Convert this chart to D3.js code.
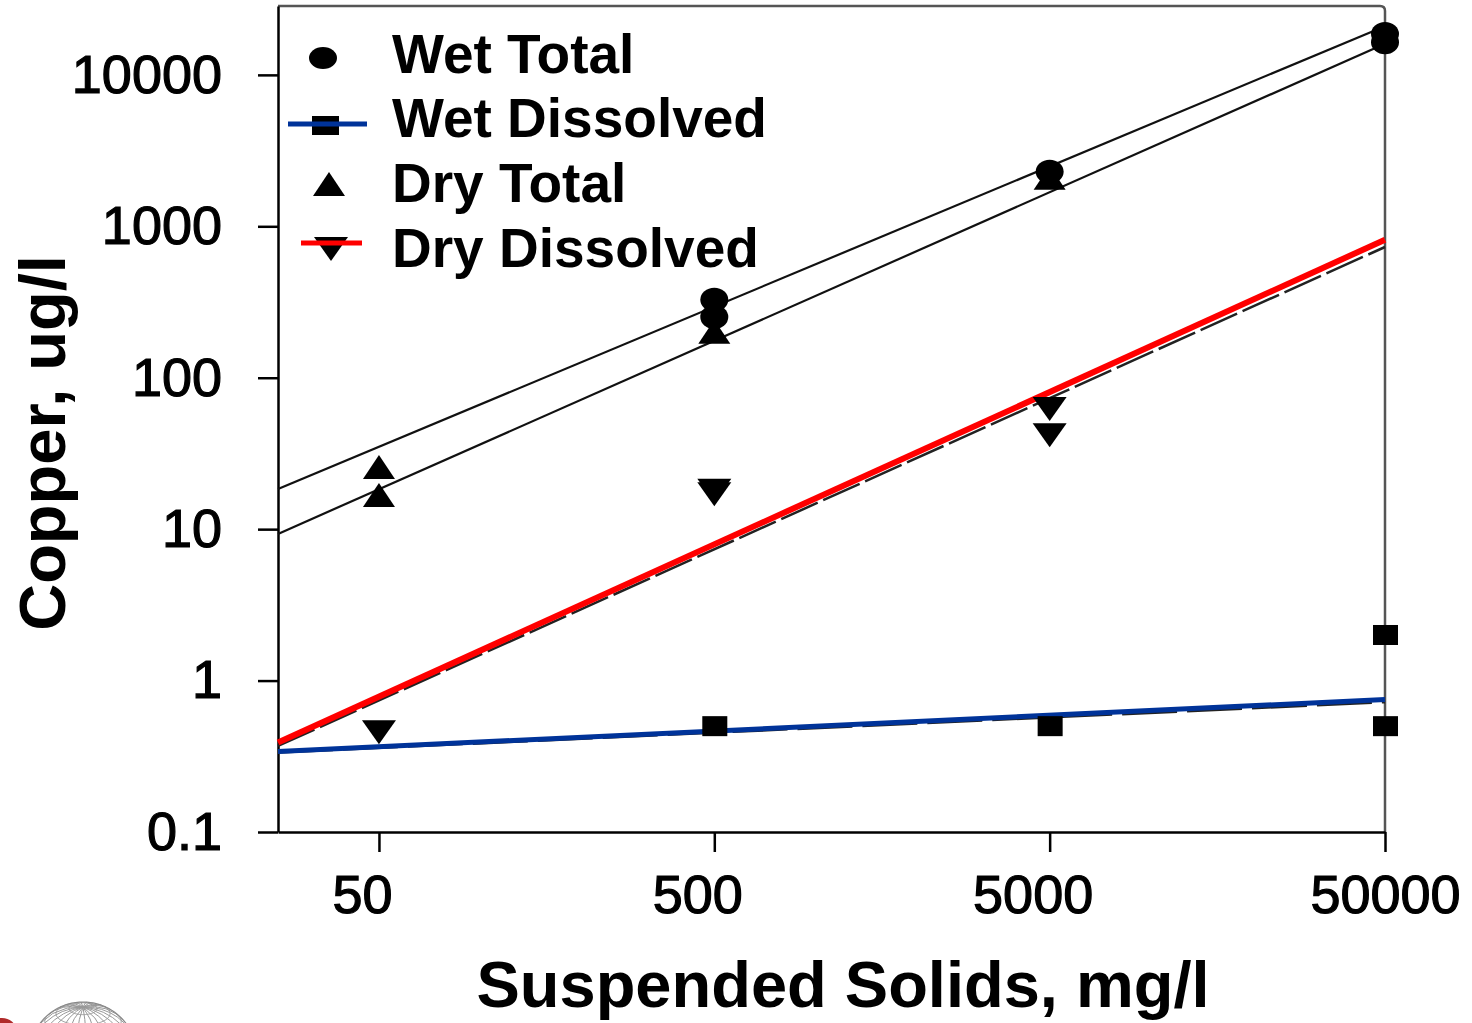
<!DOCTYPE html>
<html>
<head>
<meta charset="utf-8">
<script src="https://cdn.jsdelivr.net/npm/d3@7"></script>
<style>
  html, body { margin: 0; padding: 0; background: #fff; }
  svg { display: block; }
  text { font-family: "Liberation Sans", Arial, sans-serif; fill: #000; }
  .axis text { font-size: 54px; stroke: #000; stroke-width: 1.2px; }
  .axis line, .axis path { stroke: #000; stroke-width: 2.5px; }
  .title { font-size: 65px; font-weight: bold; }
  .legend text { font-size: 55px; font-weight: bold; }
</style>
</head>
<body>
<svg id="chart" width="1472" height="1023"></svg>
<script>
'use strict';

// measured points
var wetTotalX = [500, 500, 5000, 50000, 50000];
var wetTotalY = [327, 252, 2290, 18600, 16400];

var wetDissX = [500, 5000, 50000, 50000];
var wetDissY = [0.5, 0.5, 2, 0.5];

var dryTotalX = [50, 50, 500, 5000];
var dryTotalY = [25, 16.3, 195, 2030];

var dryDissX = [50, 500, 500, 5000, 5000];
var dryDissY = [0.47, 17.5, 18.5, 64, 43];

// fitted lines (end points)
var totalFitX = [25, 47000];
var wetTotalFit = [18.4, 19800];
var dryTotalFit = [9.3, 15100];

var dissFitX = [25, 50000];
var dryDissFit = [0.39, 815];
var dryDissFitBlack = [0.37, 730];
var wetDissFit = [0.34, 0.75];
var wetDissFitBlack = [0.335, 0.72];

var xTicks = [50, 500, 5000, 50000];
var yTicks = [0.1, 1, 10, 100, 1000, 10000];

var legendLabels = ['Wet Total', 'Wet Dissolved', 'Dry Total', 'Dry Dissolved'];

var svg = d3.select('#chart'),
  plotL = 278, plotR = 1385, plotT = 6, plotB = 832;

var x = d3.scaleLog()
  .domain([25, 50000])
  .range([plotL, plotR]);

var y = d3.scaleLog()
  .domain([0.1, 28500])
  .range([plotB, plotT]);

var line = d3.line()
  .x(function(d) { return x(d[0]); })
  .y(function(d) { return y(d[1]); });

function pairs(xs, ys) {
  return xs.map(function(v, i) { return [v, ys[i]]; });
}

// frame top + right
svg.append('path')
  .attr('d', 'M' + plotL + ',' + plotT + 'H' + (plotR - 5) + 'Q' + plotR + ',' + plotT + ' ' + plotR + ',' + (plotT + 5) + 'V' + plotB)
  .attr('fill', 'none')
  .attr('stroke', '#555')
  .attr('stroke-width', 2.5);

// axes
var gx = svg.append('g')
  .attr('class', 'axis')
  .attr('transform', 'translate(0,' + plotB + ')')
  .call(d3.axisBottom(x).tickValues(xTicks).tickFormat(function(d) { return d; })
    .tickSize(20).tickSizeOuter(0).tickPadding(23));
gx.selectAll('text')
  .attr('dx', function(d, i) { return i < 3 ? -17 : 0; });

svg.append('g')
  .attr('class', 'axis')
  .attr('transform', 'translate(' + plotL + ',0)')
  .call(d3.axisLeft(y).tickValues(yTicks).tickFormat(function(d) { return d; })
    .tickSize(20).tickSizeOuter(0).tickPadding(36));

// fit lines
var fits = svg.append('g').attr('fill', 'none');
fits.append('path').datum(pairs(totalFitX, wetTotalFit)).attr('d', line)
  .attr('stroke', '#111').attr('stroke-width', 2.2);
fits.append('path').datum(pairs(totalFitX, dryTotalFit)).attr('d', line)
  .attr('stroke', '#111').attr('stroke-width', 2.2);
fits.append('path').datum(pairs(dissFitX, dryDissFitBlack)).attr('d', line)
  .attr('stroke', '#222').attr('stroke-width', 2.5).attr('stroke-dasharray', '40 6');
fits.append('path').datum(pairs(dissFitX, wetDissFitBlack)).attr('d', line)
  .attr('stroke', '#222').attr('stroke-width', 2.5).attr('stroke-dasharray', '55 10');
fits.append('path').datum(pairs(dissFitX, dryDissFit)).attr('d', line)
  .attr('stroke', '#ff0000').attr('stroke-width', 6);
fits.append('path').datum(pairs(dissFitX, wetDissFit)).attr('d', line)
  .attr('stroke', '#003399').attr('stroke-width', 5);

// marker shapes
function triUp(cx, cy) {
  return 'M' + cx + ',' + (cy - 14) + 'L' + (cx + 16) + ',' + (cy + 10) + 'L' + (cx - 16) + ',' + (cy + 10) + 'Z';
}
function triDown(cx, cy) {
  return 'M' + (cx - 17) + ',' + (cy - 10) + 'L' + (cx + 17) + ',' + (cy - 10) + 'L' + cx + ',' + (cy + 14) + 'Z';
}

var marks = svg.append('g').attr('fill', '#000');

marks.selectAll('.wt').data(pairs(wetTotalX, wetTotalY)).enter().append('ellipse')
  .attr('cx', function(d) { return x(d[0]); })
  .attr('cy', function(d) { return y(d[1]); })
  .attr('rx', 14).attr('ry', 12);

marks.selectAll('.wd').data(pairs(wetDissX, wetDissY)).enter().append('rect')
  .attr('x', function(d) { return x(d[0]) - 12; })
  .attr('y', function(d) { return y(d[1]) - 10; })
  .attr('width', 25).attr('height', 20);

marks.selectAll('.dt').data(pairs(dryTotalX, dryTotalY)).enter().append('path')
  .attr('d', function(d) { return triUp(x(d[0]), y(d[1])); });

marks.selectAll('.dd').data(pairs(dryDissX, dryDissY)).enter().append('path')
  .attr('d', function(d) { return triDown(x(d[0]), y(d[1])); });

// legend
var legend = svg.append('g').attr('class', 'legend');
var rowY = [73, 137, 202, 267];
legend.selectAll('text').data(legendLabels).enter().append('text')
  .attr('x', 392)
  .attr('y', function(d, i) { return rowY[i]; })
  .text(function(d) { return d; });

legend.append('ellipse').attr('cx', 323).attr('cy', 58).attr('rx', 14).attr('ry', 11);
legend.append('rect').attr('x', 312).attr('y', 116).attr('width', 27).attr('height', 19);
legend.append('line').attr('x1', 288).attr('x2', 367).attr('y1', 124).attr('y2', 124)
  .attr('stroke', '#003399').attr('stroke-width', 5);
legend.append('path').attr('d', triUp(329, 186));
legend.append('path').attr('d', triDown(331, 247));
legend.append('line').attr('x1', 301).attr('x2', 362).attr('y1', 243).attr('y2', 243)
  .attr('stroke', '#ff0000').attr('stroke-width', 5);

// titles
svg.append('text')
  .attr('class', 'title')
  .attr('x', 843)
  .attr('y', 1007)
  .attr('text-anchor', 'middle')
  .text('Suspended Solids, mg/l');

svg.append('text')
  .attr('class', 'title')
  .attr('transform', 'rotate(-90)')
  .attr('x', -443)
  .attr('y', 65)
  .attr('text-anchor', 'middle')
  .text('Copper, ug/l');

// logo fragment, bottom left
var proj = d3.geoOrthographic().scale(54).translate([83, 1056]).rotate([20, -25]);
var geo = d3.geoPath(proj);
svg.append('path').datum(d3.geoGraticule().step([15, 15])())
  .attr('d', geo).attr('fill', 'none').attr('stroke', '#999').attr('stroke-width', 1);
svg.append('path').datum({type: 'Sphere'})
  .attr('d', geo).attr('fill', 'none').attr('stroke', '#888').attr('stroke-width', 1.2);
svg.append('ellipse').attr('cx', 2).attr('cy', 1030).attr('rx', 14).attr('ry', 12)
  .attr('fill', '#b02a2a');
</script>
</body>
</html>
